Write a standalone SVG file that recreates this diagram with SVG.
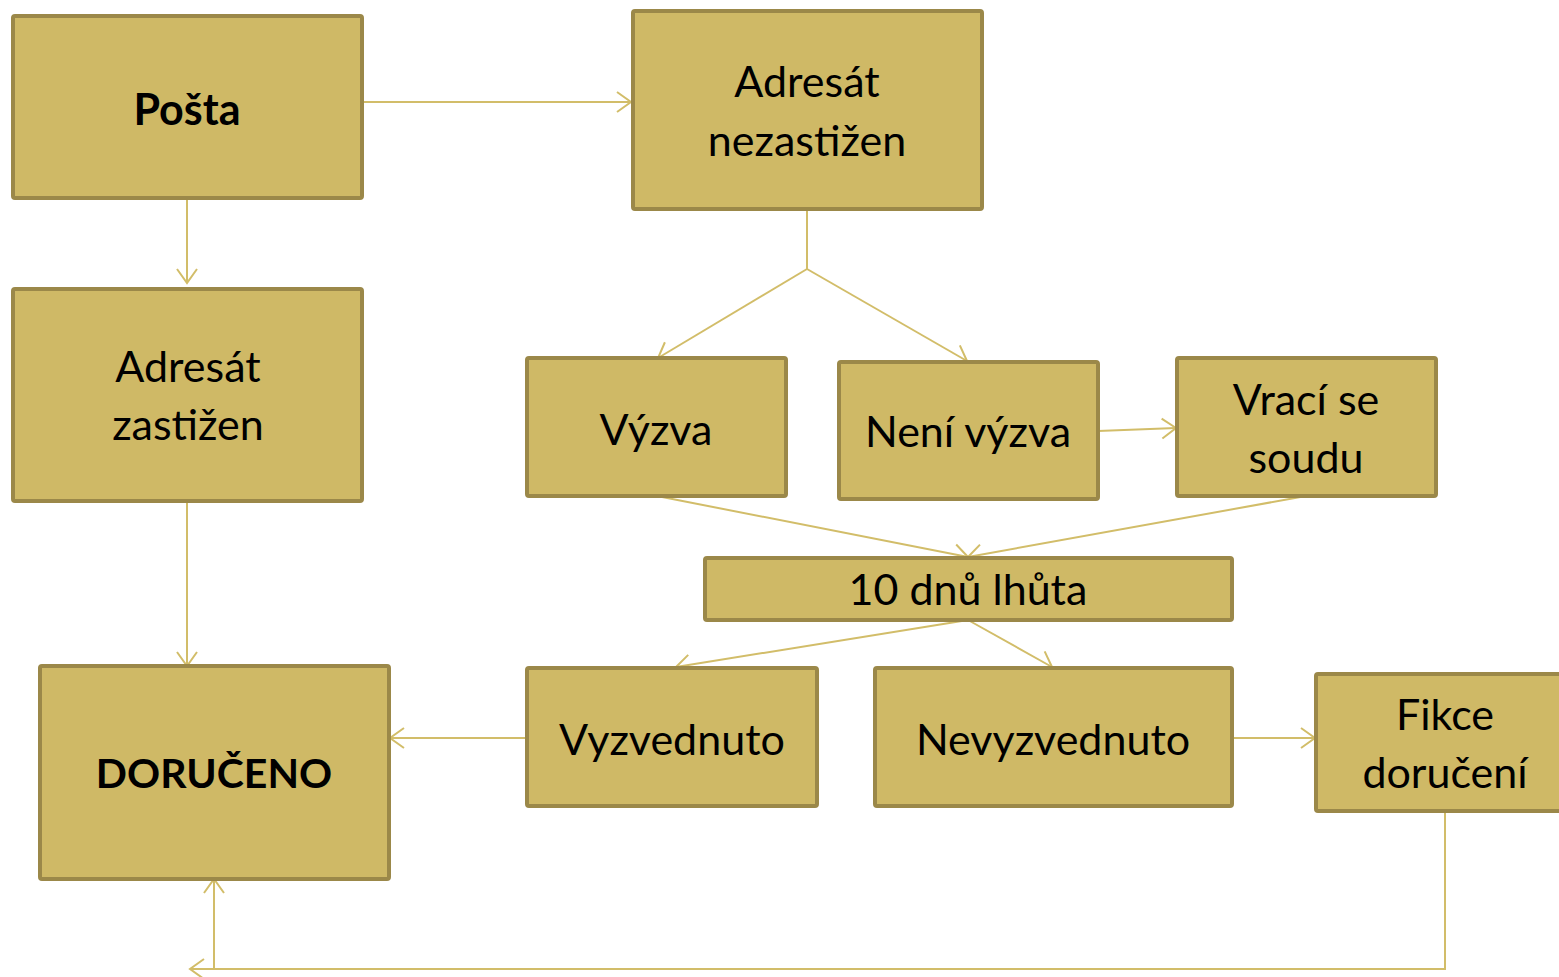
<svg xmlns="http://www.w3.org/2000/svg" width="1559" height="977" viewBox="0 0 1559 977">
<style>
.box{fill:#CFB966;stroke:#9B8849;stroke-width:4;}
.t{font-family:Lato,"Open Sans","Liberation Sans",sans-serif;font-size:43px;fill:#000;text-anchor:middle;}
.b{font-weight:bold;}
.c{fill:none;stroke:#D2BD69;stroke-width:2;}
</style>
<defs>
<marker id="ah" markerUnits="userSpaceOnUse" markerWidth="24" markerHeight="24" refX="14" refY="12" orient="auto" viewBox="0 0 24 24" overflow="visible">
<path d="M0,2 L14,12 L0,22" fill="none" stroke="#D2BD69" stroke-width="2"/>
</marker>
</defs>
<rect width="1559" height="977" fill="#fff"/>
<g id="connectors">
<line class="c" x1="362" y1="102" x2="631" y2="102" marker-end="url(#ah)"/>
<line class="c" x1="187" y1="198" x2="187" y2="283" marker-end="url(#ah)"/>
<line class="c" x1="187" y1="501" x2="187" y2="666" marker-end="url(#ah)"/>
<polyline class="c" points="807,209 807,269"/>
<line class="c" x1="807" y1="269" x2="658" y2="358" marker-end="url(#ah)"/>
<line class="c" x1="807" y1="269" x2="967" y2="361" marker-end="url(#ah)"/>
<line class="c" x1="1098" y1="431" x2="1176" y2="428" marker-end="url(#ah)"/>
<line class="c" x1="657" y1="496" x2="968" y2="557" marker-end="url(#ah)"/>
<line class="c" x1="1306" y1="496" x2="968" y2="557" marker-end="url(#ah)"/>
<line class="c" x1="968" y1="620" x2="676" y2="667" marker-end="url(#ah)"/>
<line class="c" x1="968" y1="620" x2="1052" y2="667" marker-end="url(#ah)"/>
<line class="c" x1="527" y1="738" x2="390" y2="738" marker-end="url(#ah)"/>
<line class="c" x1="1232" y1="738" x2="1315" y2="738" marker-end="url(#ah)"/>
<polyline class="c" points="1445,811 1445,969 190,969" marker-end="url(#ah)"/>
<line class="c" x1="214" y1="969" x2="214" y2="879" marker-end="url(#ah)"/>
</g>
<g id="posta"><rect class="box" x="13" y="16" width="349" height="182" rx="2"/><text class="t b" x="187" y="125">Pošta</text></g>
<g id="nezastizen"><rect class="box" x="633" y="11" width="349" height="198" rx="2"/><text class="t" x="807" y="97">Adresát</text><text class="t" x="807" y="156">nezastižen</text></g>
<g id="zastizen"><rect class="box" x="13" y="289" width="349" height="212" rx="2"/><text class="t" x="188" y="382">Adresát</text><text class="t" x="188" y="440">zastižen</text></g>
<g id="doruceno"><rect class="box" x="40" y="666" width="349" height="213" rx="2"/><text class="t b" x="214" y="788" style="font-size:41px">DORUČENO</text></g>
<g id="vyzva"><rect class="box" x="527" y="358" width="259" height="138" rx="2"/><text class="t" x="656" y="445">Výzva</text></g>
<g id="neni-vyzva"><rect class="box" x="839" y="362" width="259" height="137" rx="2"/><text class="t" x="968" y="447">Není výzva</text></g>
<g id="vraci"><rect class="box" x="1177" y="358" width="259" height="138" rx="2"/><text class="t" x="1306" y="415">Vrací se</text><text class="t" x="1306" y="473">soudu</text></g>
<g id="lhuta"><rect class="box" x="705" y="558" width="527" height="62" rx="2"/><text class="t" x="968" y="605">10 dnů lhůta</text></g>
<g id="vyzvednuto"><rect class="box" x="527" y="668" width="290" height="138" rx="2"/><text class="t" x="672" y="755">Vyzvednuto</text></g>
<g id="nevyzvednuto"><rect class="box" x="875" y="668" width="357" height="138" rx="2"/><text class="t" x="1053" y="755">Nevyzvednuto</text></g>
<g id="fikce"><rect class="box" x="1316" y="674" width="260" height="137" rx="2"/><text class="t" x="1445" y="730">Fikce</text><text class="t" x="1445" y="788">doručení</text></g>
</svg>
